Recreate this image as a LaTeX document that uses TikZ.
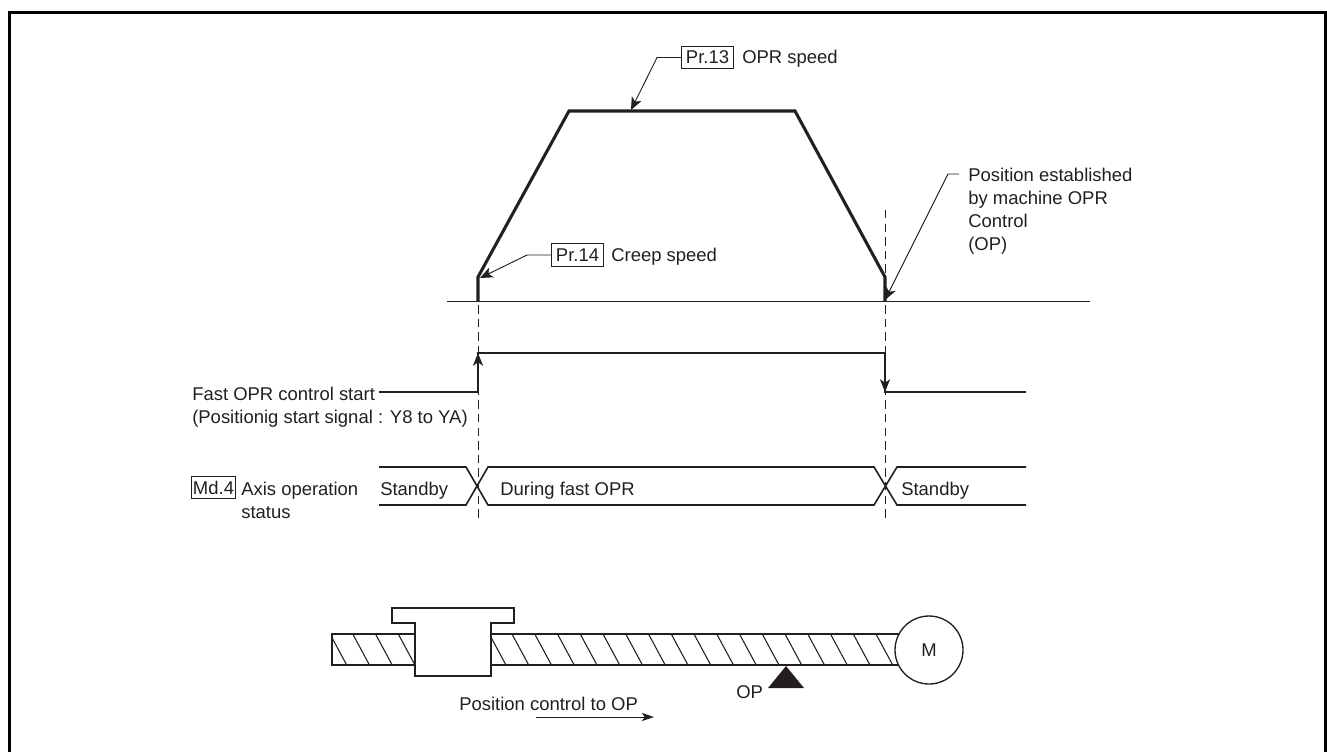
\documentclass[tikz,border=0pt]{standalone}
\usepackage{fontspec}
\setmainfont{Liberation Sans}
\usetikzlibrary{arrows.meta}
\definecolor{ink}{HTML}{231F20}
\tikzset{
  lbl/.style={inner sep=0pt,anchor=base west,align=left,text=ink,font=\fontsize{13.85}{17.25}\selectfont},
  refbox/.style={draw=ink,line width=0.8pt,inner sep=0pt,minimum width=#1,minimum height=17pt,text=ink,font=\fontsize{13.85}{17.25}\selectfont},
  profile/.style={draw=ink,line width=2.3pt,line join=miter},
  signal/.style={draw=ink,line width=1.5pt},
  status/.style={draw=ink,line width=1.2pt},
  thin line/.style={draw=ink,line width=0.7pt},
  guide/.style={draw=ink,line width=0.7pt,dash pattern=on 6.3pt off 3.9pt},
  leader/.style={draw=ink,line width=0.7pt,-{Stealth[length=9.5pt,width=8pt,inset=2.5pt]}},
  sigarrow/.style={-{Stealth[length=9.5pt,width=7.5pt,inset=2.5pt]}},
  mech/.style={draw=ink,line width=1pt},
}
\begin{document}
\begin{tikzpicture}[x=0.75pt,y=-0.75pt]
\useasboundingbox (0,0) rectangle (1327,751);
% frame
\draw[black,line width=2.3pt] (9.5,760) -- (9.5,12.5) -- (1326,12.5) -- (1326,760);

% dashed guides
\coordinate (gl0) at (478,278); \coordinate (gl1) at (478,520);
\coordinate (gr0) at (885,210); \coordinate (gr1) at (885,520);
\draw[guide] (gl0) -- (gl1);
\draw[guide] (gr0) -- (gr1);

% axis and speed profile
\coordinate (ax0) at (447,301); \coordinate (ax1) at (1090,301);
\draw[thin line] (ax0) -- (ax1);
\coordinate (p0) at (478,301); \coordinate (p1) at (478,277);
\coordinate (p2) at (569,111); \coordinate (p3) at (795,111);
\coordinate (p4) at (885,277); \coordinate (p5) at (885,301);
\draw[profile] (p0) -- (p1) -- (p2) -- (p3) -- (p4) -- (p5);

% Pr.13
\node[refbox=38.5pt] (pr13) at (707.5,57.5) {Pr.13};
\node[lbl] (pr13t) at (742,63.5) {OPR speed};
\coordinate (e13) at (657,57.5); \coordinate (t13) at (631,110);
\draw[leader] (pr13.west) -- (e13) -- (t13);

% Pr.14
\node[refbox=38.5pt] (pr14) at (577.5,255) {Pr.14};
\node[lbl] (pr14t) at (611,261) {Creep speed};
\coordinate (e14) at (527,255); \coordinate (t14) at (480,278);
\draw[leader] (pr14.west) -- (e14) -- (t14);

% Position established
\node[lbl] (pos) at (968,250) {Position established\\by machine OPR\\Control\\(OP)};
\coordinate (s15) at (959,174); \coordinate (e15) at (948,174); \coordinate (t15) at (885,300);
\draw[leader] (s15) -- (e15) -- (t15);

% start signal
\node[lbl] (sig) at (192,423) {Fast OPR control start\\(Positionig start signal : Y8 to YA)};
\coordinate (a0) at (379,392); \coordinate (a1) at (478,392); \coordinate (a2) at (478,353);
\coordinate (a3) at (885,353); \coordinate (a4) at (885,392); \coordinate (a5) at (1026,392);
\draw[signal] (a0) -- (a1) -- (a2) -- (a3) -- (a4) -- (a5);
\draw[signal,sigarrow] (a1) -- (a2);
\draw[signal,sigarrow] (a3) -- (a4);

% axis status
\node[refbox=33.5pt] (md4) at (213.5,487.5) {Md.4};
\node[lbl] (axis) at (241,518) {Axis operation\\status};
\node[lbl] (st1) at (380,495) {Standby};
\node[lbl] (st2) at (500,495) {During fast OPR};
\node[lbl] (st3) at (901,495) {Standby};
\coordinate (u0) at (379,467); \coordinate (u1) at (466,467); \coordinate (u2) at (488,505);
\coordinate (u3) at (874,505); \coordinate (u4) at (897,467); \coordinate (u5) at (1026,467);
\coordinate (l0) at (379,505); \coordinate (l1) at (466,505); \coordinate (l2) at (488,467);
\coordinate (l3) at (874,467); \coordinate (l4) at (897,505); \coordinate (l5) at (1026,505);
\draw[status] (u0) -- (u1) -- (u2) -- (u3) -- (u4) -- (u5);
\draw[status] (l0) -- (l1) -- (l2) -- (l3) -- (l4) -- (l5);

% ball screw
\begin{scope}
\clip (332,634) rectangle (900,665);
\foreach \k in {0,...,24} {
  \draw[ink,line width=0.8pt] ({330+22.75*\k},634) -- ({346.7+22.75*\k},665);
}
\end{scope}
\draw[mech] (900,634) -- (332,634) -- (332,665) -- (900,665);
\draw[mech,fill=white] (415,623) -- (392,623) -- (392,608) -- (514,608) -- (514,623) -- (491,623) -- (491,676) -- (415,676) -- cycle;
\node[mech,circle,fill=white,minimum size=51pt,inner sep=0pt,text=ink,font=\fontsize{13.85}{17.25}\selectfont] (motor) at (929,650) {M};
\fill[ink] (786,666) -- (804,688) -- (768,688) -- cycle;
\node[lbl] (op) at (736,698) {OP};
\node[lbl] (ctl) at (459,710) {Position control to OP};
\coordinate (m0) at (536,717); \coordinate (m1) at (654,717);
\draw[thin line,-{Stealth[length=9pt,width=6pt,inset=2pt]}] (m0) -- (m1);
\end{tikzpicture}
\end{document}
